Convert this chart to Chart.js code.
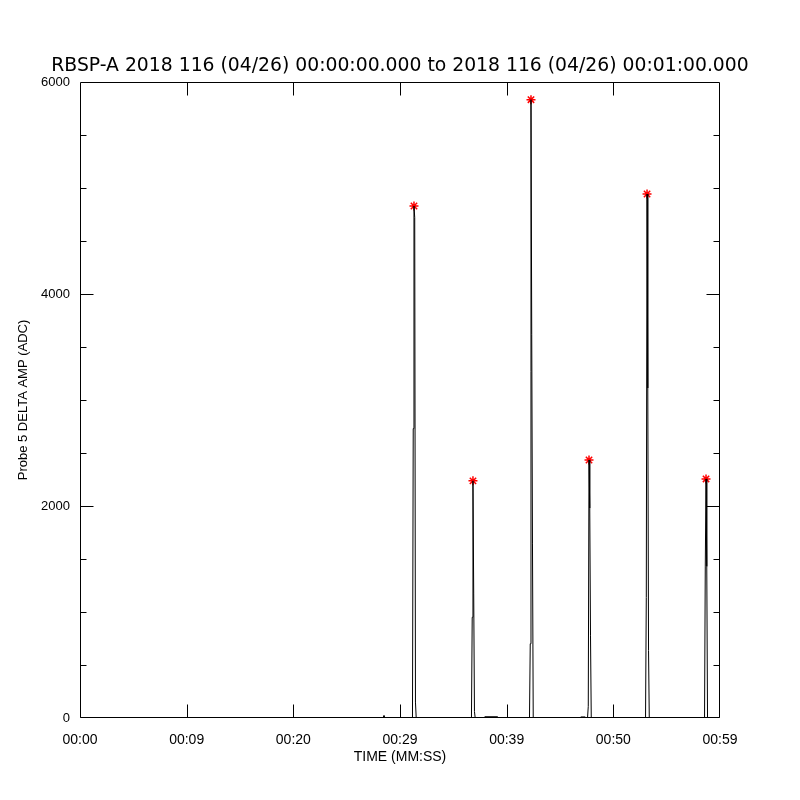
<!DOCTYPE html>
<html><head><meta charset="utf-8">
<script src="https://cdn.jsdelivr.net/npm/chart.js@4"></script>
<style>html,body{margin:0;padding:0;background:#fff}canvas{display:block}</style>
</head><body>
<canvas id="c" width="800" height="800"></canvas>
<script>
const titleText = 'RBSP-A 2018 116 (04/26) 00:00:00.000 to 2018 116 (04/26) 00:01:00.000';
const xTitle = 'TIME (MM:SS)';
const yTitle = 'Probe 5 DELTA AMP (ADC)';
const xTickValues = [0, 10, 20, 30, 40, 50, 60];
const xTickLabels = ['00:00', '00:09', '00:20', '00:29', '00:39', '00:50', '00:59'];
const yMajorValues = [0, 2000, 4000, 6000];

const times = [0, 28.4, 28.5, 28.6,
  31.17, 31.24, 31.31, 31.38, 31.45, 31.52,
  36.70, 36.77, 36.84, 36.91, 36.98, 37.05,
  37.9, 37.95, 39.15, 39.2,
  42.14, 42.21, 42.28, 42.35, 42.42, 42.49,
  46.9, 46.95, 47.35, 47.4,
  47.58, 47.65, 47.72, 47.79, 47.86, 47.93,
  53.02, 53.09, 53.16, 53.23, 53.30, 53.37,
  58.55, 58.62, 58.69, 58.76, 58.83, 60];
const amps = [0, 0, 25, 0,
  0, 2730, 4830, 4720, 150, 0,
  0, 950, 2237, 1170, 60, 0,
  0, 12, 12, 0,
  0, 700, 5833, 3620, 1650, 0,
  0, 10, 10, 0,
  0, 110, 2434, 1980, 775, 0,
  0, 1136, 4943, 3113, 636, 0,
  0, 1425, 2255, 1430, 0, 0];

const peakTimes = [31.31, 36.84, 42.28, 47.72, 53.16, 58.69];
const peakAmps = [4830, 2237, 5833, 2434, 4943, 2255];

const FONT = 'Liberation Sans';

const framePlugin = {
  id: 'frame',
  afterDatasetsDraw(chart) {
    const {ctx, chartArea: a, scales: {x, y}} = chart;
    ctx.save();
    ctx.strokeStyle = '#000';
    ctx.lineWidth = 1;
    const L = Math.round(a.left) + 0.5, R = Math.round(a.right) - 0.5;
    const T = Math.round(a.top) + 0.5, B = Math.round(a.bottom) - 0.5;
    ctx.beginPath();
    ctx.rect(L, T, R - L, B - T);
    for (const t of y.ticks) {
      if (t.value <= y.min || t.value >= y.max) continue;
      const py = Math.round(y.getPixelForValue(t.value)) + 0.5;
      const len = yMajorValues.includes(t.value) ? 13 : 6;
      ctx.moveTo(L, py); ctx.lineTo(L + len, py);
      ctx.moveTo(R, py); ctx.lineTo(R - len, py);
    }
    for (const t of x.ticks) {
      if (t.value <= x.min || t.value >= x.max) continue;
      const px = Math.round(x.getPixelForValue(t.value)) + 0.5;
      ctx.moveTo(px, B); ctx.lineTo(px, B - 13);
      ctx.moveTo(px, T); ctx.lineTo(px, T + 13);
    }
    ctx.stroke();
    ctx.restore();
  }
};

new Chart(document.getElementById('c'), {
  type: 'line',
  data: {
    datasets: [
      {
        data: times.map((t, i) => ({x: t, y: amps[i]})),
        borderColor: '#000',
        borderWidth: 1,
        pointRadius: 0,
        tension: 0,
        fill: false
      },
      {
        data: peakTimes.map((t, i) => ({x: t, y: peakAmps[i]})),
        showLine: false,
        pointStyle: 'star',
        pointRadius: 4.5,
        borderColor: '#ff0000',
        backgroundColor: '#ff0000',
        pointBorderWidth: 1.5
      }
    ]
  },
  options: {
    responsive: false,
    animation: false,
    layout: {padding: 0},
    plugins: {
      legend: {display: false},
      tooltip: {enabled: false},
      title: {
        display: true,
        text: titleText,
        color: '#000',
        font: {family: 'DejaVu Sans', size: 18.8, weight: 'normal'},
        padding: {top: 55, bottom: 4.4}
      }
    },
    scales: {
      x: {
        type: 'linear',
        min: 0, max: 60,
        afterFit(s) { s.height = 82; },
        afterBuildTicks(s) { s.ticks = xTickValues.map(v => ({value: v})); },
        grid: {display: false, drawTicks: false},
        border: {display: false},
        ticks: {
          color: '#000', padding: 14, maxRotation: 0, autoSkip: false,
          font: {family: FONT, size: 14},
          callback: (v, i) => xTickLabels[i]
        },
        title: {
          display: true, text: xTitle, color: '#000',
          font: {family: FONT, size: 14},
          padding: {top: 0, bottom: 34}
        }
      },
      y: {
        min: 0, max: 6000,
        afterFit(s) { s.width = 80; },
        grid: {display: false, drawTicks: false},
        border: {display: false},
        ticks: {
          color: '#000', padding: 10, stepSize: 500, autoSkip: false,
          font: {family: FONT, size: 13},
          callback: v => yMajorValues.includes(v) ? String(v) : ''
        },
        title: {
          display: true, text: yTitle, color: '#000',
          font: {family: FONT, size: 13},
          padding: {top: 16, bottom: 0}
        }
      },
      yRight: {
        type: 'linear',
        position: 'right',
        min: 0, max: 6000,
        afterFit(s) { s.width = 80; },
        grid: {display: false, drawTicks: false},
        border: {display: false},
        ticks: {display: false}
      }
    }
  },
  plugins: [framePlugin]
});
</script>
</body></html>
